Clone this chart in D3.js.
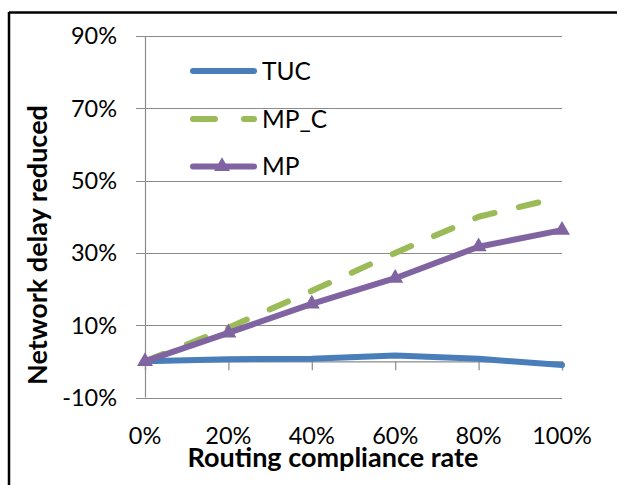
<!DOCTYPE html>
<html><head><meta charset="utf-8">
<script src="https://cdn.jsdelivr.net/npm/d3@7"></script>
<style>
html,body{margin:0;padding:0;background:#fff;}
svg{display:block;font-family:Lato,"Noto Sans",sans-serif;}
</style></head>
<body>
<svg id="chart" width="617" height="485"></svg>
<script>
const categories = ["0%","20%","40%","60%","80%","100%"];
const tuc  = [0.0, 0.6, 0.7, 1.6, 0.7, -1.0];
const mpC  = [0.0, 9.3, 19.5, 30.0, 40.0, 45.5];
const mp   = [0.0, 7.9, 15.9, 23.0, 31.7, 36.3];
const yTicks = [-10, 10, 30, 50, 70, 90];
const seriesNames = ["TUC","MP_C","MP"];

const svg = d3.select("#chart");

// outer frame
svg.append("line").attr("x1",9).attr("x2",617).attr("y1",12.5).attr("y2",12.5).attr("stroke","#000").attr("stroke-width",2.5);
svg.append("line").attr("x1",9).attr("x2",9).attr("y1",12).attr("y2",485).attr("stroke","#000").attr("stroke-width",2.5);

const x = d3.scalePoint().domain(categories).range([145,562]);
const y = d3.scaleLinear().domain([-10,90]).range([397.5,36]);

// gridlines
svg.append("g").selectAll("line").data(yTicks).join("line")
  .attr("x1",136).attr("x2",562)
  .attr("y1",d=>Math.round(y(d))+0.5).attr("y2",d=>Math.round(y(d))+0.5)
  .attr("stroke","#8c8c8c").attr("stroke-width",1.2);

// y axis line
svg.append("line").attr("x1",145.5).attr("x2",145.5).attr("y1",y(90)).attr("y2",y(-10))
  .attr("stroke","#8c8c8c").attr("stroke-width",1.2);

// y tick labels
svg.append("g").selectAll("text").data(yTicks).join("text")
  .attr("x",117).attr("y",d=>y(d)).attr("dy","0.36em")
  .attr("text-anchor","end").attr("font-size",23.5).attr("fill","#000")
  .text(d=>d+"%");

// x axis at 0 with ticks
const xAxis = d3.axisBottom(x).tickSize(9).tickFormat("");
const gx = svg.append("g").attr("transform",`translate(0,${y(0)})`).call(xAxis);
gx.select(".domain").attr("stroke","#8c8c8c").attr("stroke-width",1.2);
gx.selectAll(".tick line").attr("stroke","#8c8c8c").attr("stroke-width",1.2);

// x tick labels
svg.append("g").selectAll("text").data(categories).join("text")
  .attr("x",d=>x(d)).attr("y",444)
  .attr("text-anchor","middle").attr("font-size",23.5).attr("fill","#000")
  .text(d=>d);

const line = d3.line().x((d,i)=>x(categories[i])).y(d=>y(d));

// series
svg.append("path").datum(tuc).attr("d",line).attr("fill","none")
  .attr("stroke","#4a7ebb").attr("stroke-width",6).attr("stroke-linejoin","round").attr("stroke-linecap","round");
svg.append("path").datum(mpC).attr("d",line).attr("fill","none")
  .attr("stroke","#9bbb59").attr("stroke-width",6).attr("stroke-dasharray","20,25").attr("stroke-linecap","round").attr("stroke-linejoin","round");
svg.append("path").datum(mp).attr("d",line).attr("fill","none")
  .attr("stroke","#8064a2").attr("stroke-width",6).attr("stroke-linejoin","round").attr("stroke-linecap","round");

const tri = d3.symbol().type(d3.symbolTriangle).size(110);
svg.append("g").selectAll("path").data(mp).join("path")
  .attr("transform",(d,i)=>`translate(${x(categories[i])},${y(d)})`)
  .attr("d",tri).attr("fill","#8064a2");

// legend
const legY = [71, 119, 166.5];
const leg = svg.append("g");
leg.append("line").attr("x1",193).attr("x2",254).attr("y1",legY[0]).attr("y2",legY[0])
  .attr("stroke","#4a7ebb").attr("stroke-width",6).attr("stroke-linecap","round");
leg.append("line").attr("x1",193).attr("x2",254).attr("y1",legY[1]).attr("y2",legY[1])
  .attr("stroke","#9bbb59").attr("stroke-width",6).attr("stroke-linecap","round").attr("stroke-dasharray","22,29");
leg.append("line").attr("x1",193).attr("x2",254).attr("y1",legY[2]).attr("y2",legY[2])
  .attr("stroke","#8064a2").attr("stroke-width",6).attr("stroke-linecap","round");
leg.append("path").attr("transform",`translate(222,${legY[2]})`).attr("d",tri).attr("fill","#8064a2");
leg.selectAll("text").data(seriesNames).join("text")
  .attr("x",262).attr("y",(d,i)=>legY[i]).attr("dy","0.36em")
  .attr("font-size",24.5).attr("fill","#000").text(d=>d);

// axis titles
svg.append("text").attr("transform","translate(47,245) rotate(-90)")
  .attr("text-anchor","middle").attr("font-size",27).attr("font-weight","bold").attr("fill","#000")
  .text("Network delay reduced");
svg.append("text").attr("x",333).attr("y",467)
  .attr("text-anchor","middle").attr("font-size",27).attr("font-weight","bold").attr("fill","#000")
  .text("Routing compliance rate");
</script>
</body></html>
